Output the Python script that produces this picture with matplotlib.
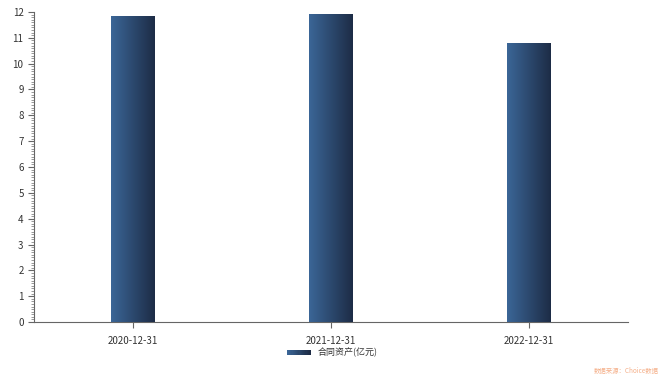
import numpy as np
import matplotlib.pyplot as plt
from matplotlib.colors import LinearSegmentedColormap
from matplotlib.ticker import MultipleLocator
from matplotlib.legend_handler import HandlerBase

plt.rcParams['font.family'] = ['Noto Sans CJK SC', 'DejaVu Sans']

categories = ['2020-12-31', '2021-12-31', '2022-12-31']
values = [11.85, 11.92, 10.80]
series_name = '合同资产(亿元)'

cmap = LinearSegmentedColormap.from_list('bar', ['#3b6697', '#1d2c46'])


class GradientHandler(HandlerBase):
    # legend key drawn as thin vertical strips to fake the gradient
    def create_artists(self, legend, orig, xd, yd, width, height, fontsize, trans):
        n = 20
        arts = []
        for i in range(n):
            r = plt.Rectangle((xd + width * i / n, yd), width / n + 0.3, height,
                              color=cmap(i / (n - 1)), transform=trans, lw=0)
            arts.append(r)
        return arts


fig = plt.figure(figsize=(6.6, 3.76), dpi=100)
ax = fig.add_axes([0.0515, 0.1436, 0.9, 0.8245])

x = np.arange(len(categories))
bars = ax.bar(x, values, width=0.22, color='#2d4a72', label=series_name, zorder=2)

# horizontal gradient inside each bar
grad = np.linspace(0, 1, 256).reshape(1, -1)
for b in bars:
    x0, y0 = b.get_x(), b.get_y()
    w, h = b.get_width(), b.get_height()
    im = ax.imshow(grad, cmap=cmap, aspect='auto', extent=[x0, x0 + w, y0, y0 + h], zorder=3)
    im.set_clip_path(b)

ax.set_xlim(-0.5, 2.5)
ax.set_ylim(0, 12)
ax.set_xticks(x)
ax.set_xticklabels(categories)
ax.yaxis.set_major_locator(MultipleLocator(1))
ax.yaxis.set_minor_locator(MultipleLocator(0.1))

for s in ['top', 'right']:
    ax.spines[s].set_visible(False)
for s in ['left', 'bottom']:
    ax.spines[s].set_color('#666666')
    ax.spines[s].set_linewidth(0.8)

ax.tick_params(axis='both', labelsize=7, colors='#666666', labelcolor='#333333', length=4, width=0.8)
ax.tick_params(axis='y', which='minor', length=2, width=0.6, colors='#888888')
ax.tick_params(axis='x', pad=6)

fig.legend([bars], [series_name], loc='center', bbox_to_anchor=(0.503, 0.063),
           frameon=False, fontsize=6.5, handlelength=2.6, handleheight=0.6,
           labelcolor='#333333', handler_map={type(bars): GradientHandler()})

fig.text(0.998, 0.002, '数据来源：Choice数据', ha='right', va='bottom',
         fontsize=4.6, color='#f5b08a')

fig.savefig('out.png', dpi=100)
